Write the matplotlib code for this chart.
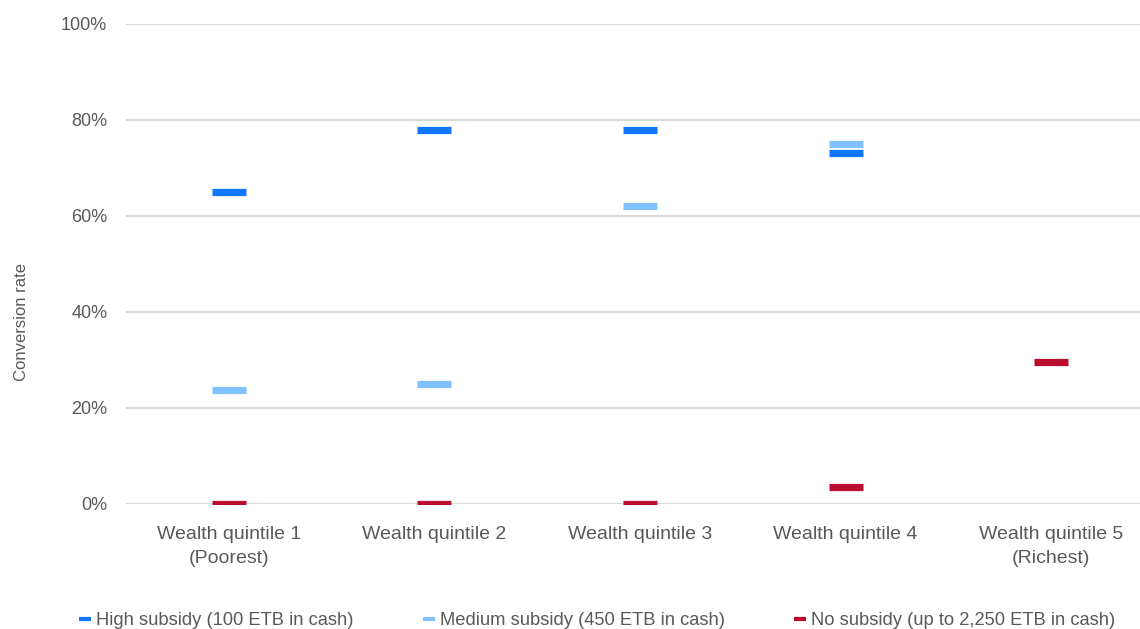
import numpy as np
import matplotlib.pyplot as plt
from matplotlib.lines import Line2D

categories = ["Wealth quintile 1\n(Poorest)", "Wealth quintile 2", "Wealth quintile 3",
              "Wealth quintile 4", "Wealth quintile 5\n(Richest)"]
high_subsidy = [65.0, 78.0, 78.0, 73.2, np.nan]
medium_subsidy = [23.8, 25.0, 62.0, 75.0, np.nan]
no_subsidy = [0.0, 0.0, 0.0, 3.6, 29.5]

series_names = ["High subsidy (100 ETB in cash)", "Medium subsidy (450 ETB in cash)",
                "No subsidy (up to 2,250 ETB in cash)"]
colors = ["#1177FF", "#80C2FF", "#BA0C2F"]

plt.rcParams['font.family'] = ['Liberation Sans', 'DejaVu Sans']

fig = plt.figure(figsize=(11.4, 6.29), dpi=100)
ax = fig.add_axes([126 / 1140, 1 - 504 / 629, 1028 / 1140, 480 / 629])

x = np.arange(len(categories))
for vals, col in zip([high_subsidy, medium_subsidy, no_subsidy], colors):
    ax.plot(x, vals, linestyle='none', marker='_', markersize=24,
            markeredgewidth=5.2, color=col, zorder=3)

ax.set_xlim(-0.5, 4.5)
ax.set_ylim(0, 100)
ax.set_yticks([0, 20, 40, 60, 80, 100])
ax.set_yticklabels([f"{v}%" for v in [0, 20, 40, 60, 80, 100]])
ax.set_xticks(x)
ax.set_xticklabels(categories, linespacing=1.55)
ax.tick_params(axis='both', length=0, colors='#595959')
ax.tick_params(axis='y', pad=13.5, labelsize=13)
ax.tick_params(axis='x', pad=16, labelsize=14)
for s in ax.spines.values():
    s.set_visible(False)
ax.grid(axis='y', color='#D9D9D9', linewidth=1.5)
ax.set_axisbelow(True)
ax.set_ylabel("Conversion rate", fontsize=12, color='#595959')
ax.yaxis.set_label_coords(-97 / 1028, 0.38)

handles = [Line2D([], [], linestyle='none', marker='_', markersize=8.5,
                  markeredgewidth=3, color=c) for c in colors]
fig.legend(handles, series_names, loc='lower left', bbox_to_anchor=(63 / 1140, -0.027),
           ncol=3, frameon=False, fontsize=13.2, labelcolor='#595959',
           handlelength=0.6, handletextpad=0.3, columnspacing=3.8)

fig.savefig("out.png", dpi=100, facecolor='white')
